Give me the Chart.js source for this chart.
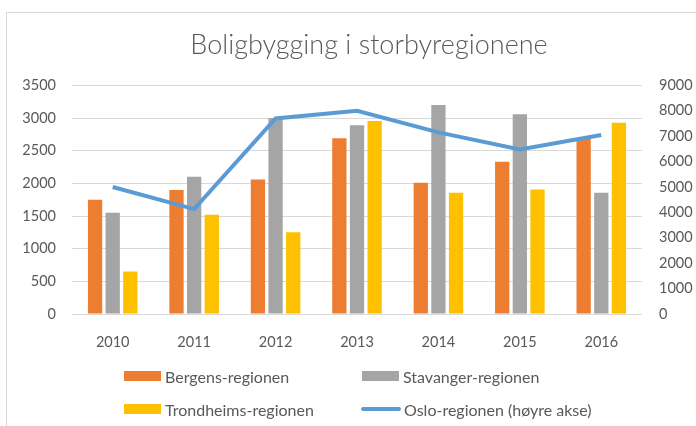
<!DOCTYPE html>
<html>
<head>
<meta charset="utf-8">
<script src="https://cdn.jsdelivr.net/npm/chart.js@4/dist/chart.umd.min.js"></script>
<style>
  html, body { margin: 0; padding: 0; background: #fff; }
  #wrap { position: relative; width: 696px; height: 426px; overflow: hidden; }
  #frame {
    position: absolute; left: 6px; top: 12px; width: 740px; height: 440px;
    border-left: 1px solid #d9d9d9; border-top: 1px solid #d9d9d9;
  }
  #chart { position: absolute; left: 0; top: 0; }
  #legend { position: absolute; left: 0; top: 0; width: 696px; height: 426px; pointer-events: none; }
  .item {
    position: absolute; height: 20px; display: flex; align-items: center;
    font-family: Lato, "Noto Sans", sans-serif; font-size: 16px; color: #595959; white-space: nowrap;
  }
  .swatch { width: 37px; height: 10px; margin-right: 4px; }
  .swatch.line { width: 40px; height: 4px; border-radius: 2px; margin-right: 3px; }
</style>
</head>
<body>
<div id="wrap">
  <div id="frame"></div>
  <canvas id="chart" width="738" height="426"></canvas>
  <div id="legend"></div>
</div>
<script>
const years = ['2010', '2011', '2012', '2013', '2014', '2015', '2016'];
const bergen = [1750, 1900, 2060, 2690, 2010, 2330, 2690];
const stavanger = [1550, 2100, 3000, 2890, 3200, 3060, 1855];
const trondheim = [650, 1520, 1250, 2955, 1855, 1905, 2930];
const oslo = [5000, 4130, 7700, 8000, 7150, 6480, 7050];

const textColor = '#595959';
const gridColor = '#d9d9d9';
const fontFamily = 'Lato, "Noto Sans", sans-serif';

function barSet(label, data, color) {
  return {
    type: 'bar',
    label: label,
    data: data,
    backgroundColor: color,
    yAxisID: 'y',
    order: 1,
    categoryPercentage: 0.65,
    barPercentage: 0.81
  };
}

const datasets = [
  barSet('Bergens-regionen', bergen, '#ED7D31'),
  barSet('Stavanger-regionen', stavanger, '#A5A5A5'),
  barSet('Trondheims-regionen', trondheim, '#FFC000'),
  {
    type: 'line',
    label: 'Oslo-regionen (høyre akse)',
    data: oslo,
    borderColor: '#5B9BD5',
    backgroundColor: '#5B9BD5',
    borderWidth: 4,
    pointRadius: 0,
    tension: 0,
    yAxisID: 'y1',
    order: 0
  }
];

const tickFont = { family: fontFamily, size: 14.5 };
const plain = value => String(value); // no thousands separator

const chart = new Chart(document.getElementById('chart'), {
  type: 'bar',
  data: { labels: years, datasets: datasets },
  options: {
    responsive: false,
    animation: false,
    layout: { padding: { left: 0, right: 0, top: 0, bottom: 72 } },
    plugins: {
      legend: { display: false },
      tooltip: { enabled: false },
      title: {
        display: true,
        text: 'Boligbygging i storbyregionene',
        color: textColor,
        font: { family: fontFamily, size: 27, weight: '300', lineHeight: 1.2 },
        padding: { top: 29, bottom: 24 }
      }
    },
    scales: {
      x: {
        grid: { display: false },
        border: { display: false },
        ticks: { color: textColor, font: tickFont, padding: 12 },
        afterFit: scale => { scale.height = 40; }
      },
      y: {
        position: 'left',
        min: 0,
        max: 3500,
        ticks: { stepSize: 500, color: textColor, font: tickFont, padding: 16, callback: plain },
        grid: { color: gridColor, lineWidth: 1, drawTicks: false },
        border: { display: false },
        afterFit: scale => { scale.width = 72; }
      },
      y1: {
        position: 'right',
        min: 0,
        max: 9000,
        ticks: { stepSize: 1000, color: textColor, font: tickFont, padding: 17, callback: plain },
        grid: { display: false, drawTicks: false },
        border: { display: false },
        afterFit: scale => { scale.width = 96; }
      }
    }
  }
});

// legend laid out in two columns, built from the chart's datasets
const legendPos = [
  { x: 124, y: 366 }, { x: 362, y: 366 },
  { x: 124, y: 399 }, { x: 361, y: 399 }
];
const legend = document.getElementById('legend');
chart.data.datasets.forEach((ds, i) => {
  const item = document.createElement('div');
  item.className = 'item';
  item.style.left = legendPos[i].x + 'px';
  item.style.top = legendPos[i].y + 'px';
  const sw = document.createElement('span');
  sw.className = ds.type === 'line' ? 'swatch line' : 'swatch';
  sw.style.background = ds.type === 'line' ? ds.borderColor : ds.backgroundColor;
  const txt = document.createElement('span');
  txt.textContent = ds.label;
  item.appendChild(sw);
  item.appendChild(txt);
  legend.appendChild(item);
});
</script>
</body>
</html>
